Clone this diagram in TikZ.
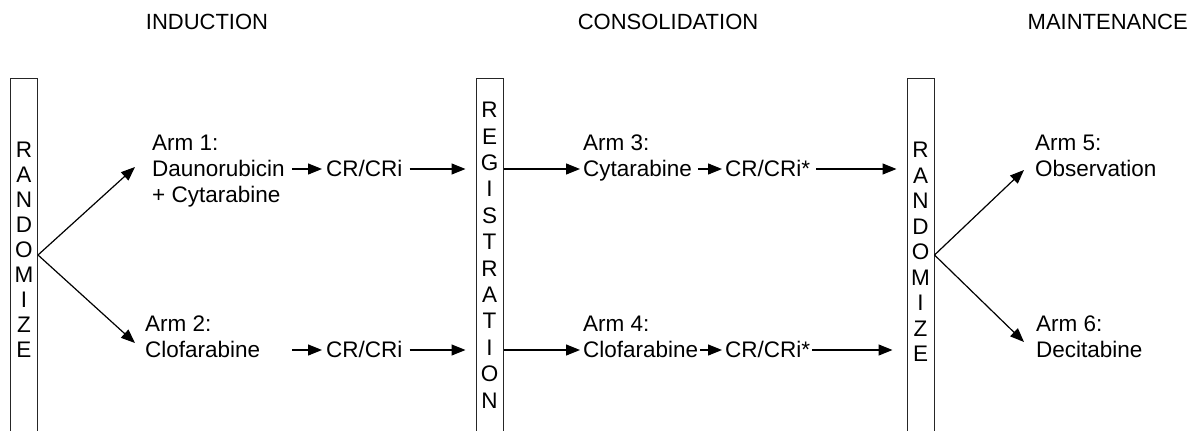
\documentclass[tikz,border=0pt]{standalone}
\usepackage{fontspec}
\setmainfont{Liberation Sans}
\usetikzlibrary{arrows.meta}
\begin{document}
\begin{tikzpicture}[x=1pt,y=-1pt,
  txt/.style={inner sep=0pt, anchor=base west, font=\fontsize{22.5}{26}\selectfont},
  ttl/.style={inner sep=0pt, font=\fontsize{22}{26}\selectfont},
  letter/.style={inner sep=0pt, font=\fontsize{22.5}{26}\selectfont},
  vbox/.style={draw=black!85, line width=1pt, minimum width=27pt, minimum height=354pt, inner sep=0pt},
  arr/.style={line width=1.2pt, -{Triangle[length=14pt,width=11pt]}},
]
\useasboundingbox (0,0) rectangle (1192,431);
\clip (0,0) rectangle (1192,431);

% titles
\node[ttl] (tind) at (207,22) {INDUCTION};
\node[ttl] (tcon) at (668,22) {CONSOLIDATION};
\node[ttl, anchor=east] (tmai) at (1188,22) {MAINTENANCE};

% vertical boxes
\node[vbox] (lbox) at (24,255) {};
\node[vbox] (mbox) at (489.5,255) {};
\node[vbox] (rbox) at (920.5,255) {};

\foreach \l [count=\i] in {R,A,N,D,O,M,I,Z,E}
  \node[letter] (L\i) at (24,{150+(\i-1)*25}) {\l};
\foreach \l [count=\i] in {R,E,G,I,S,T,R,A,T,I,O,N}
  \node[letter] (M\i) at (489.5,{110+(\i-1)*26.4}) {\l};
\foreach \l [count=\i] in {R,A,N,D,O,M,I,Z,E}
  \node[letter] (R\i) at (920.5,{150+(\i-1)*25.5}) {\l};

% induction arms
\node[txt] (a1a) at (152,150) {Arm 1:};
\node[txt] (a1b) at (152,176) {Daunorubicin};
\node[txt] (a1c) at (152,202) {+ Cytarabine};
\node[txt] (a2a) at (145,331) {Arm 2:};
\node[txt] (a2b) at (145,357) {Clofarabine};

\node[txt] (cr1) at (326,176) {CR/CRi};
\node[txt] (cr2) at (326,357) {CR/CRi};

% consolidation arms
\node[txt] (a3a) at (583,150) {Arm 3:};
\node[txt] (a3b) at (583,176) {Cytarabine};
\node[txt] (a4a) at (583,331) {Arm 4:};
\node[txt] (a4b) at (583,357) {Clofarabine};

\node[txt] (cr3) at (725,176) {CR/CRi*};
\node[txt] (cr4) at (725,357) {CR/CRi*};

% maintenance arms
\node[txt] (a5a) at (1035,150) {Arm 5:};
\node[txt] (a5b) at (1035,176) {Observation};
\node[txt] (a6a) at (1036,331) {Arm 6:};
\node[txt] (a6b) at (1036,357) {Decitabine};

% coordinates for free ends
\coordinate (f1) at (135,167);
\coordinate (f2) at (135,343);
\coordinate (f5) at (1024,170);
\coordinate (f6) at (1024,342);
\coordinate (s2) at (292,350);

% fans
\draw[arr] (lbox.east) -- (f1);
\draw[arr] (lbox.east) -- (f2);
\draw[arr] (rbox.east) -- (f5);
\draw[arr] (rbox.east) -- (f6);

% induction row arrows
\draw[arr, shorten <=7pt, shorten >=4pt] (a1b.east |- 0,169) -- (cr1.west |- 0,169);
\draw[arr, shorten >=4pt] (s2) -- (cr2.west |- s2);
\draw[arr, shorten <=7pt, shorten >=10pt] (cr1.east |- 0,169) -- (mbox.west |- 0,169);
\draw[arr, shorten <=7pt, shorten >=10pt] (cr2.east |- s2) -- (mbox.west |- s2);

% consolidation row arrows
\draw[arr, shorten >=3pt] (mbox.east |- 0,169) -- (a3b.west |- 0,169);
\draw[arr, shorten >=3pt] (mbox.east |- s2) -- (a4b.west |- s2);
\draw[arr, shorten <=6pt, shorten >=3pt] (a3b.east |- 0,169) -- (cr3.west |- 0,169);
\draw[arr, shorten <=2pt, shorten >=3pt] (a4b.east |- s2) -- (cr4.west |- s2);
\draw[arr, shorten <=6pt, shorten >=10pt] (cr3.east |- 0,169) -- (rbox.west |- 0,169);
\draw[arr, shorten <=2pt, shorten >=14pt] (cr4.east |- s2) -- (rbox.west |- s2);
\end{tikzpicture}
\end{document}
